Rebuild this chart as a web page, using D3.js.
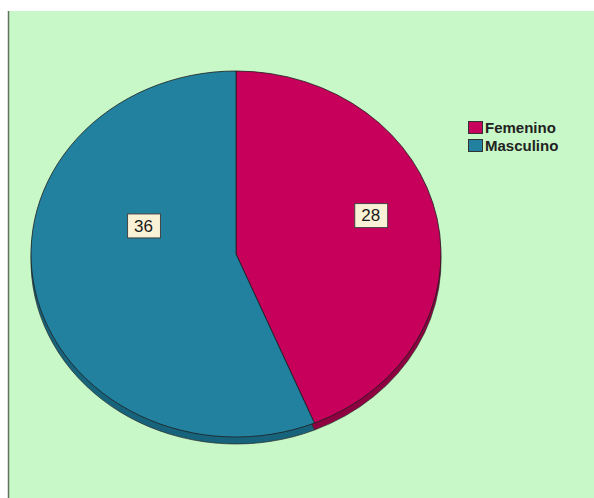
<!DOCTYPE html>
<html>
<head>
<meta charset="utf-8">
<script src="https://cdn.jsdelivr.net/npm/d3@7/dist/d3.min.js"></script>
<style>
  html, body { margin: 0; padding: 0; background: #ffffff; }
  svg { display: block; }
</style>
</head>
<body>
<svg id="chart" width="594" height="498"></svg>
<script>
// Sexo de los participantes
const categories = ["Femenino", "Masculino"];
const values = [28, 36];
const colors = ["#c7005b", "#22819f"];
const sideColors = ["#8e0040", "#18637c"];

const svg = d3.select("#chart");
const W = 594, H = 498;

// panel background
svg.append("rect")
  .attr("x", 8).attr("y", 11).attr("width", W - 8).attr("height", H - 11)
  .attr("fill", "#c8f8c8");
svg.append("line")
  .attr("x1", 8.5).attr("x2", 8.5).attr("y1", 11).attr("y2", H)
  .attr("stroke", "#5f735f").attr("stroke-width", 1.5);

// pie geometry (elliptical, slight 3D depth)
const cx = 236, cy = 254, rx = 205, ry = 183, depth = 7;

const pieData = d3.pie().sort(null).value(d => d)(values);
const arc = d3.arc().innerRadius(0).outerRadius(rx);

// side (depth) layer
const sideLayer = svg.append("g")
  .attr("transform", `translate(${cx},${cy + depth}) scale(1,${ry / rx})`);
sideLayer.selectAll("path").data(pieData).join("path")
  .attr("d", arc)
  .attr("fill", (d, i) => sideColors[i])
  .attr("stroke", "#2a2a2a").attr("stroke-width", 0.7)
  .attr("vector-effect", "non-scaling-stroke");

// top face
const faceLayer = svg.append("g")
  .attr("transform", `translate(${cx},${cy}) scale(1,${ry / rx})`);
faceLayer.selectAll("path").data(pieData).join("path")
  .attr("d", arc)
  .attr("fill", (d, i) => colors[i])
  .attr("stroke", "#1e1e1e").attr("stroke-width", 0.8)
  .attr("vector-effect", "non-scaling-stroke");

// value labels
const labelPlace = [{ f: 0.67, dy: -15 }, { f: 0.46, dy: -45 }];
pieData.forEach((d, i) => {
  const mid = (d.startAngle + d.endAngle) / 2;
  const lx = cx + rx * labelPlace[i].f * Math.sin(mid);
  const ly = cy - ry * labelPlace[i].f * Math.cos(mid) + labelPlace[i].dy;
  const g = svg.append("g").attr("transform", `translate(${lx},${ly})`);
  const t = g.append("text")
    .attr("text-anchor", "middle")
    .attr("dy", "0.36em")
    .attr("font-family", "Liberation Sans, Arial, sans-serif")
    .attr("font-size", 17)
    .attr("fill", "#1a1a1a")
    .text(d.data);
  const bb = t.node().getBBox();
  const bw = bb.width + 14, bh = 24;
  g.insert("rect", "text")
    .attr("x", -bw / 2 + 0.5).attr("y", -bh / 2 + 0.5)
    .attr("width", bw).attr("height", bh)
    .attr("fill", "#faf2d6")
    .attr("stroke", "#444").attr("stroke-width", 1);
});

// legend
const legend = svg.append("g").attr("transform", "translate(468,121)");
const item = legend.selectAll("g").data(categories).join("g")
  .attr("transform", (d, i) => `translate(0,${i * 18})`);
item.append("rect")
  .attr("x", 0.5).attr("y", 0.5).attr("width", 14).attr("height", 12)
  .attr("fill", (d, i) => colors[i])
  .attr("stroke", "#333").attr("stroke-width", 1);
item.append("text")
  .attr("x", 17).attr("y", 7).attr("dy", "0.36em")
  .attr("font-family", "Liberation Sans, Arial, sans-serif")
  .attr("font-weight", "bold")
  .attr("font-size", 15)
  .attr("fill", "#222")
  .text(d => d);
</script>
</body>
</html>
